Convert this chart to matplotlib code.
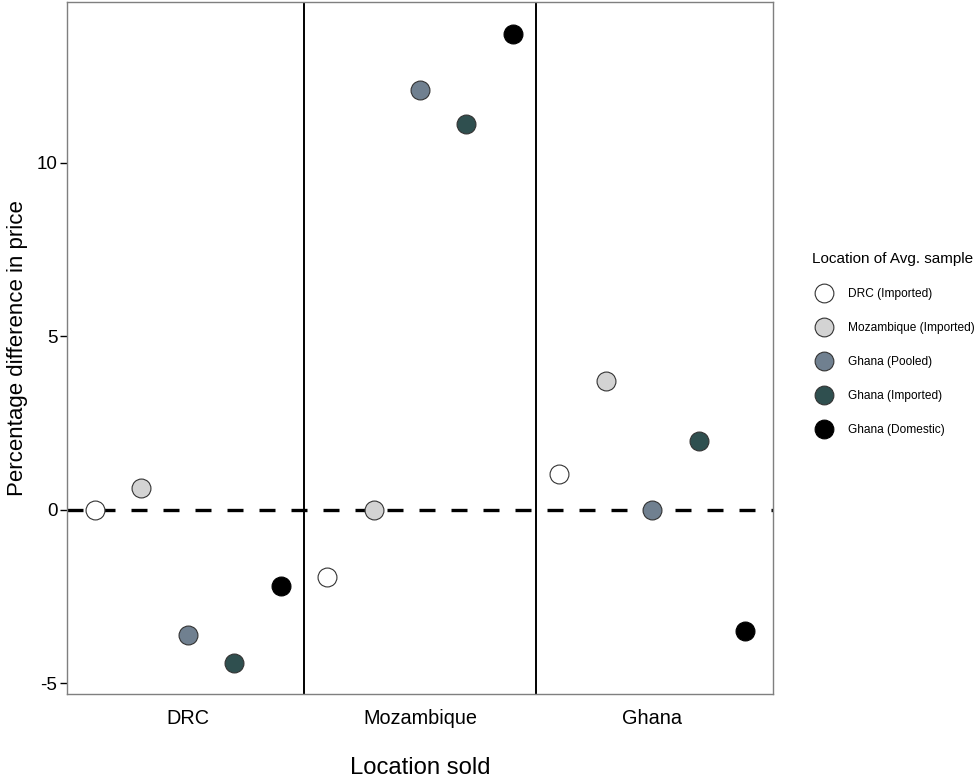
########################################################################################################################
#
########################################################################################################################
import numpy as np
import matplotlib
matplotlib.use('Agg')
import matplotlib.pyplot as plt
from matplotlib.lines import Line2D

plt.rcParams['font.family'] = ['Liberation Sans', 'DejaVu Sans']

########################################################################################################################
# data
########################################################################################################################
locations = ["DRC", "Mozambique", "Ghana"]
samples = ["DRC (Imported)", "Mozambique (Imported)", "Ghana (Pooled)", "Ghana (Imported)", "Ghana (Domestic)"]
sample_colours = ["#ffffff", "#d3d3d3", "#708090", "#2f4f4f", "#000000"]

drc_imported = [0.0, -1.93, 1.04]
moz_imported = [0.63, 0.0, 3.72]
ghana_pooled = [-3.60, 12.10, 0.0]
ghana_imported = [-4.41, 11.12, 1.99]
ghana_domestic = [-2.19, 13.72, -3.49]

values = [drc_imported, moz_imported, ghana_pooled, ghana_imported, ghana_domestic]

########################################################################################################################
# plot
########################################################################################################################
fig = plt.figure(figsize=(9.79, 7.78), dpi=100)
ax = fig.add_axes([67 / 979, 1 - 694 / 778, (773 - 67) / 979, (694 - 2) / 778])

x_base = np.arange(1, len(locations) + 1)
dodge = 0.2

ax.axhline(0, color="black", lw=2.4, linestyle=(0, (4.8, 4.8)), zorder=2)
for xv in x_base[:-1] + 0.5:
    ax.axvline(xv, color="black", lw=1.4, zorder=2)

handles = []
for i, (name, col, vals) in enumerate(zip(samples, sample_colours, values)):
    xs = x_base + (i - 2) * dodge
    edge = "#333333" if col != "#000000" else "#000000"
    ax.scatter(xs, vals, s=185, facecolor=col, edgecolor=edge, linewidth=0.8, zorder=3)
    handles.append(Line2D([], [], linestyle="none", marker="o", markersize=13.5,
                          markerfacecolor=col, markeredgecolor=edge, markeredgewidth=0.8, label=name))

ax.set_xlim(0.48, 3.52)
ax.set_ylim(-5.31, 14.64)
ax.set_xticks(x_base)
ax.set_xticklabels(locations)
ax.set_yticks([-5, 0, 5, 10])
ax.set_yticklabels(["-5", "0", "5", "10"])

ax.tick_params(axis="x", length=0, pad=10.5, labelsize=14.3, colors="black")
ax.tick_params(axis="y", length=5, width=1, pad=2, labelsize=13.5, colors="black")

for sp in ax.spines.values():
    sp.set_color("#7f7f7f")
    sp.set_linewidth(1.0)

ax.set_xlabel("Location sold", fontsize=17.2, labelpad=21)
ax.set_ylabel("Percentage difference in price", fontsize=16, labelpad=6)

leg = fig.legend(handles=handles, title="Location of Avg. sample", loc="upper left",
                 bbox_to_anchor=(807 / 979, 1 - 247 / 778), frameon=False, fontsize=8.6,
                 title_fontsize=11, labelspacing=1.85, handletextpad=1.07, borderaxespad=0)
leg._legend_box.align = "left"

fig.savefig("out.png", dpi=100)
